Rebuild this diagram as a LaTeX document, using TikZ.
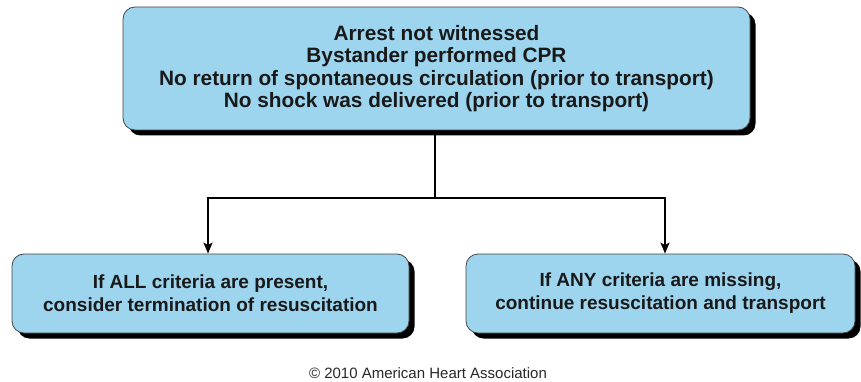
\documentclass[tikz,border=0pt]{standalone}
\usepackage{fontspec}
\setmainfont{Liberation Sans}
\usetikzlibrary{arrows.meta,shadows}
\definecolor{boxblue}{RGB}{157,212,238}
\definecolor{edgegrey}{RGB}{70,70,70}
\definecolor{textgrey}{RGB}{40,40,40}
\begin{document}
\begin{tikzpicture}[x=1pt,y=-1pt,
  box/.style={draw=edgegrey, line width=0.8pt, fill=boxblue, rounded corners=12pt,
    text=black!90, align=center, inner sep=0pt,
    drop shadow={shadow xshift=5.5pt, shadow yshift=-5.5pt, fill=black, opacity=1}},
  bigtext/.style={font=\bfseries\fontsize{20.8}{22.5}\selectfont},
  smalltext/.style={font=\bfseries\fontsize{19}{23}\selectfont},
  conn/.style={line width=2pt, black},
  arr/.style={conn, -{Stealth[length=11pt,width=9pt,inset=2.5pt]}}]
\useasboundingbox (0,0) rectangle (861,382);
\fill[white] (0,0) rectangle (861,382);
\node[box, bigtext, minimum width=627pt, minimum height=123pt] (top) at (436.5,68.5)
  {Arrest not witnessed\\Bystander performed CPR\\No return of spontaneous circulation (prior to transport)\\No shock was delivered (prior to transport)};
\node[box, smalltext, minimum width=397pt, minimum height=79pt] (left) at (210.5,293.5)
  {If ALL criteria are present,\\consider termination of resuscitation};
\node[box, smalltext, minimum width=389pt, minimum height=79pt] (right) at (660.5,293.5)
  {If ANY criteria are missing,\\continue resuscitation and transport};
\coordinate (j) at (435,198);
\draw[conn] ([yshift=-5pt]top.south -| j) -- (j);
\draw[arr] (j) -| ([xshift=-2.5pt]left.north);
\draw[arr] (j) -| ([xshift=4.5pt]right.north);
\node[font=\fontsize{15}{17}\selectfont, text=textgrey] (copy) at (428,373) {© 2010 American Heart Association};
\end{tikzpicture}
\end{document}
